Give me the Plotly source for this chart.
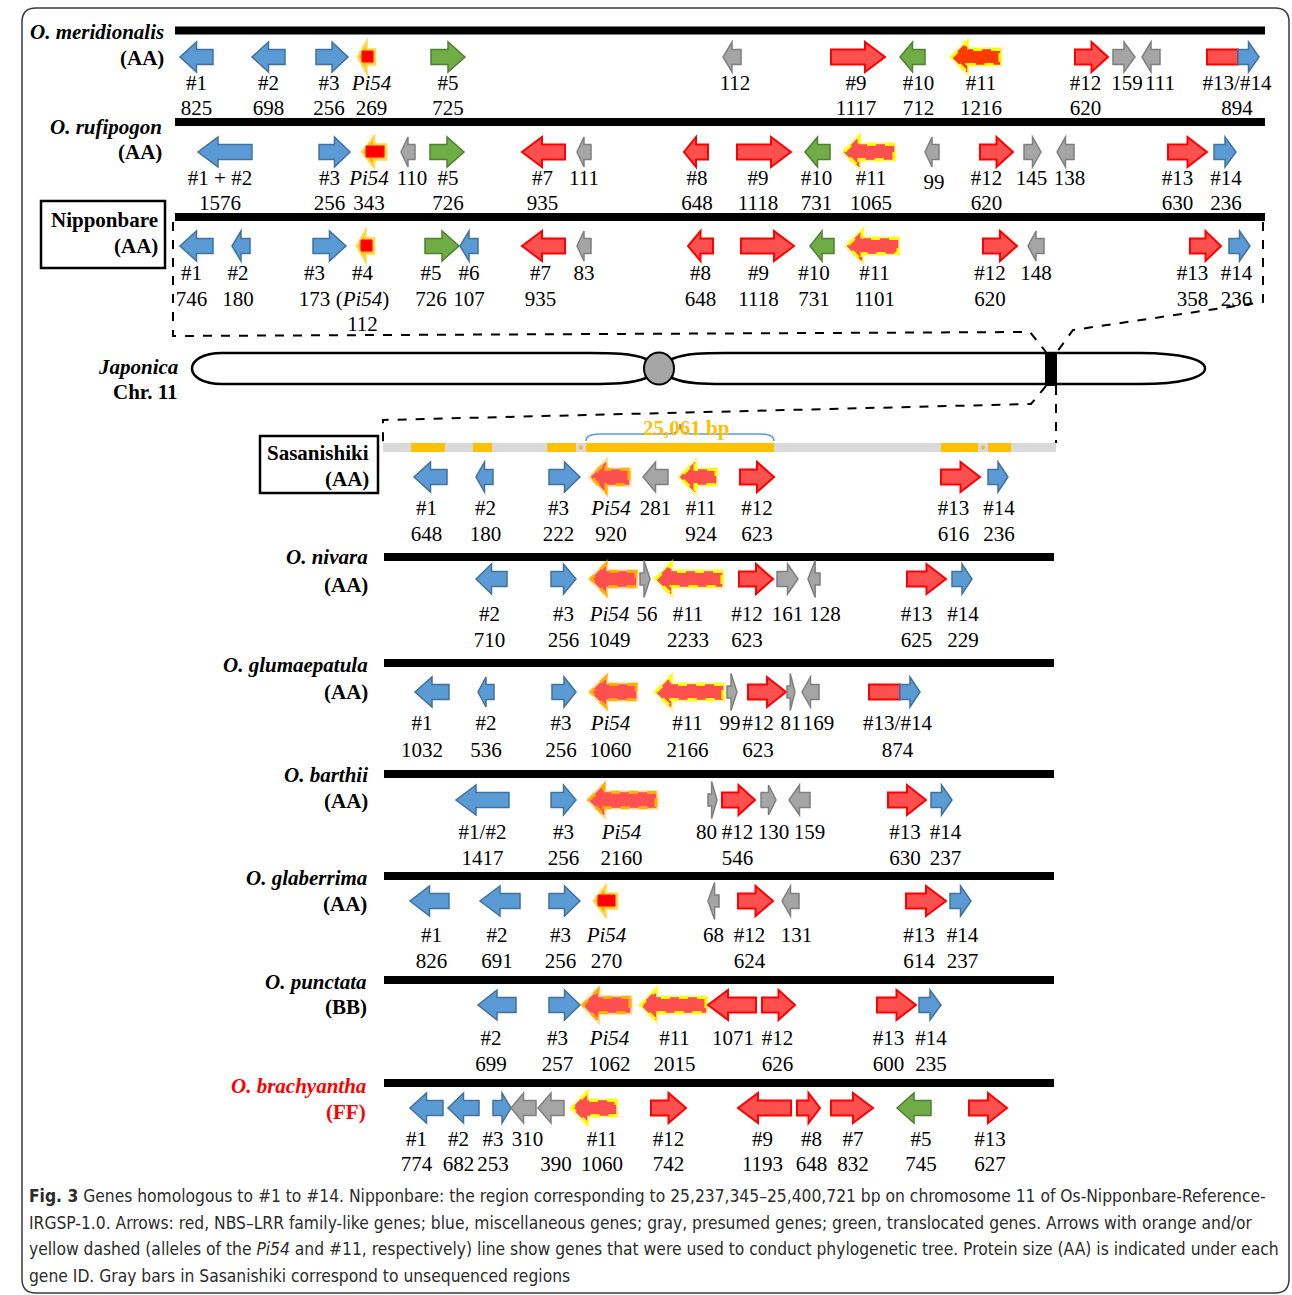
import plotly.graph_objects as go

W, H = 1292, 1295

# ---------------- gene tables: name, protein size (AA), extent along track, strand, class ----------------
MER_NAMES = ["#1", "#2", "#3", "<i>Pi54</i>", "#5", "", "#9", "#10", "#11", "#12", "", "", "#13/#14"]
MER_SIZES = [825, 698, 256, 269, 725, 112, 1117, 712, 1216, 620, 159, 111, 894]
MER_START = [180, 252, 316, 358, 431, 723, 831, 900, 952, 1075, 1113, 1142, 1207]
MER_END = [213, 285, 348, 375, 465, 741, 885, 925, 1000, 1108, 1135, 1160, 1259]
MER_STRAND = [-1, -1, 1, -1, 1, -1, 1, -1, -1, 1, 1, -1, 1]
MER_KIND = ["blue", "blue", "blue", "pi54s", "green", "gray", "red", "green", "r11o", "red", "gray", "gray", "fused"]

RUF_NAMES = ["#1 + #2", "#3", "<i>Pi54</i>", "", "#5", "#7", "", "#8", "#9", "#10", "#11", "", "#12", "", "", "#13", "#14"]
RUF_SIZES = [1576, 256, 343, 110, 726, 935, 111, 648, 1118, 731, 1065, 99, 620, 145, 138, 630, 236]
RUF_START = [198, 319, 362, 401, 430, 522, 577, 684, 737, 805, 844, 925, 980, 1024, 1057, 1168, 1214]
RUF_END = [252, 350, 386, 415, 464, 565, 591, 708, 791, 830, 894, 939, 1013, 1041, 1074, 1207, 1236]
RUF_STRAND = [-1, 1, -1, -1, 1, -1, -1, -1, 1, -1, -1, -1, 1, 1, -1, 1, 1]
RUF_KIND = ["blue", "blue", "pi54s", "gray", "green", "red", "gray", "red", "red", "green", "r11", "gray",
            "red", "gray", "gray", "red", "blue"]

NIP_NAMES = ["#1", "#2", "#3", "#4", "#5", "#6", "#7", "", "#8", "#9", "#10", "#11", "#12", "", "#13", "#14"]
NIP_SIZES = [746, 180, 173, 112, 726, 107, 935, 83, 648, 1118, 731, 1101, 620, 148, 358, 236]
NIP_START = [180, 232, 313, 357, 425, 460, 522, 577, 688, 741, 810, 847, 983, 1028, 1190, 1229]
NIP_END = [213, 250, 346, 374, 459, 478, 565, 591, 713, 794, 834, 898, 1017, 1044, 1221, 1250]
NIP_STRAND = [-1, -1, 1, -1, 1, -1, -1, -1, -1, 1, -1, -1, 1, -1, 1, 1]
NIP_KIND = ["blue", "blue", "blue", "pi54s", "green", "blue", "red", "gray", "red", "red", "green", "r11",
            "red", "gray", "red", "blue"]

SAS_NAMES = ["#1", "#2", "#3", "<i>Pi54</i>", "", "#11", "#12", "#13", "#14"]
SAS_SIZES = [648, 180, 222, 920, 281, 924, 623, 616, 236]
SAS_START = [414, 476, 549, 591, 643, 680, 740, 941, 988]
SAS_END = [447, 493, 580, 629, 668, 716, 774, 980, 1008]
SAS_STRAND = [-1, -1, 1, -1, -1, -1, 1, 1, 1]
SAS_KIND = ["blue", "blue", "blue", "pi54", "gray", "r11", "red", "red", "blue"]

NIV_NAMES = ["#2", "#3", "<i>Pi54</i>", "", "#11", "#12", "", "", "#13", "#14"]
NIV_SIZES = [710, 256, 1049, 56, 2233, 623, 161, 128, 625, 229]
NIV_START = [476, 551, 591, 640, 656, 739, 777, 808, 907, 952]
NIV_END = [507, 576, 636, 650, 722, 773, 798, 820, 946, 972]
NIV_STRAND = [-1, 1, -1, 1, -1, 1, 1, -1, 1, 1]
NIV_KIND = ["blue", "blue", "pi54", "gray", "r11", "red", "gray", "gray", "red", "blue"]

GLU_NAMES = ["#1", "#2", "#3", "<i>Pi54</i>", "#11", "", "#12", "", "", "#13/#14"]
GLU_SIZES = [1032, 536, 256, 1060, 2166, 99, 623, 81, 169, 874]
GLU_START = [415, 478, 552, 591, 656, 727, 748, 787, 802, 869]
GLU_END = [449, 494, 576, 636, 723, 737, 786, 795, 819, 920]
GLU_STRAND = [-1, -1, 1, -1, -1, 1, 1, 1, -1, 1]
GLU_KIND = ["blue", "blue", "blue", "pi54", "r11", "gray", "red", "gray", "gray", "fused"]

BAR_NAMES = ["#1/#2", "#3", "<i>Pi54</i>", "", "#12", "", "", "#13", "#14"]
BAR_SIZES = [1417, 256, 2160, 80, 546, 130, 159, 630, 237]
BAR_START = [456, 551, 589, 708, 722, 761, 789, 888, 931]
BAR_END = [509, 576, 656, 717, 755, 776, 810, 926, 952]
BAR_STRAND = [-1, 1, -1, 1, 1, 1, -1, 1, 1]
BAR_KIND = ["blue", "blue", "pi54", "gray", "red", "gray", "gray", "red", "blue"]

GLA_NAMES = ["#1", "#2", "#3", "<i>Pi54</i>", "", "#12", "", "#13", "#14"]
GLA_SIZES = [826, 691, 256, 270, 68, 624, 131, 614, 237]
GLA_START = [410, 480, 549, 594, 708, 738, 782, 906, 950]
GLA_END = [449, 520, 580, 617, 719, 773, 799, 946, 971]
GLA_STRAND = [-1, -1, 1, -1, -1, 1, -1, 1, 1]
GLA_KIND = ["blue", "blue", "blue", "pi54s", "gray", "red", "gray", "red", "blue"]

PUN_NAMES = ["#2", "#3", "<i>Pi54</i>", "#11", "", "#12", "#13", "#14"]
PUN_SIZES = [699, 257, 1062, 2015, 1071, 626, 600, 235]
PUN_START = [478, 549, 583, 641, 708, 762, 877, 919]
PUN_END = [516, 580, 630, 706, 756, 795, 916, 941]
PUN_STRAND = [-1, 1, -1, -1, -1, 1, 1, 1]
PUN_KIND = ["blue", "blue", "pi54", "r11", "red", "red", "red", "blue"]

BRA_NAMES = ["#1", "#2", "#3", "", "", "#11", "#12", "#9", "#8", "#7", "#5", "#13"]
BRA_SIZES = [774, 682, 253, 310, 390, 1060, 742, 1193, 648, 832, 745, 627]
BRA_START = [410, 448, 493, 511, 538, 572, 651, 738, 797, 831, 897, 969]
BRA_END = [443, 479, 511, 536, 564, 616, 686, 791, 820, 873, 931, 1007]
BRA_STRAND = [-1, -1, 1, -1, -1, -1, 1, -1, 1, 1, -1, 1]
BRA_KIND = ["blue", "blue", "blue", "gray", "gray", "r11", "red", "red", "red", "red", "green", "red"]

# junction between the NBS-LRR part and the #14 part of fused genes
FUSION_JUNCTION = {"meridionalis": 1238, "glumaepatula": 900}

# Sasanishiki: sequenced stretches of the contig and the bracketed span
SAS_SEQUENCED = [(411, 445), (473, 492), (547, 576), (586, 774), (941, 978), (988, 1011)]
SAS_JOINS = [581, 983]
SAS_SPAN = (586, 774)
SAS_SPAN_LABEL = "25,061 bp"

GENES = {
    "meridionalis": (MER_NAMES, MER_SIZES, MER_START, MER_END, MER_STRAND, MER_KIND),
    "rufipogon": (RUF_NAMES, RUF_SIZES, RUF_START, RUF_END, RUF_STRAND, RUF_KIND),
    "nipponbare": (NIP_NAMES, NIP_SIZES, NIP_START, NIP_END, NIP_STRAND, NIP_KIND),
    "sasanishiki": (SAS_NAMES, SAS_SIZES, SAS_START, SAS_END, SAS_STRAND, SAS_KIND),
    "nivara": (NIV_NAMES, NIV_SIZES, NIV_START, NIV_END, NIV_STRAND, NIV_KIND),
    "glumaepatula": (GLU_NAMES, GLU_SIZES, GLU_START, GLU_END, GLU_STRAND, GLU_KIND),
    "barthii": (BAR_NAMES, BAR_SIZES, BAR_START, BAR_END, BAR_STRAND, BAR_KIND),
    "glaberrima": (GLA_NAMES, GLA_SIZES, GLA_START, GLA_END, GLA_STRAND, GLA_KIND),
    "punctata": (PUN_NAMES, PUN_SIZES, PUN_START, PUN_END, PUN_STRAND, PUN_KIND),
    "brachyantha": (BRA_NAMES, BRA_SIZES, BRA_START, BRA_END, BRA_STRAND, BRA_KIND),
}

# ---------------- layout of each track ----------------
TOP_X = (175, 1265)
LOW_X = (384, 1054)
TRACKS = {
    "meridionalis": dict(line=30.5, arrow=57, rows=(83, 108, 133), span=TOP_X, label="<b><i>O. meridionalis</i></b>",
                         sub="<b>(AA)</b>", ly=(32, 58), lx=166, color="black"),
    "rufipogon": dict(line=122, arrow=152, rows=(178, 203, 228), span=TOP_X, label="<b><i>O. rufipogon</i></b>",
                      sub="<b>(AA)</b>", ly=(127, 152), lx=164, color="black"),
    "nipponbare": dict(line=217, arrow=246, rows=(273, 299, 324), span=TOP_X, label="<b>Nipponbare</b>",
                       sub="<b>(AA)</b>", ly=(220, 246), lx=160, color="black"),
    "sasanishiki": dict(line=None, arrow=477, rows=(508, 534, 559), span=LOW_X, label="<b>Sasanishiki</b>",
                        sub="<b>(AA)</b>", ly=(453, 479), lx=371, color="black"),
    "nivara": dict(line=557, arrow=579, rows=(614, 640, 665), span=LOW_X, label="<b><i>O. nivara</i></b>",
                   sub="<b>(AA)</b>", ly=(557, 585), lx=370, color="black"),
    "glumaepatula": dict(line=663, arrow=692, rows=(723, 750, 775), span=LOW_X,
                         label="<b><i>O. glumaepatula</i></b>", sub="<b>(AA)</b>", ly=(665, 692), lx=370,
                         color="black"),
    "barthii": dict(line=774, arrow=800, rows=(832, 858, 883), span=LOW_X, label="<b><i>O. barthii</i></b>",
                    sub="<b>(AA)</b>", ly=(775, 801), lx=370, color="black"),
    "glaberrima": dict(line=876, arrow=901, rows=(935, 961, 986), span=LOW_X, label="<b><i>O. glaberrima</i></b>",
                       sub="<b>(AA)</b>", ly=(878, 904), lx=369, color="black"),
    "punctata": dict(line=980, arrow=1005, rows=(1038, 1064, 1089), span=LOW_X, label="<b><i>O. punctata</i></b>",
                     sub="<b>(BB)</b>", ly=(982, 1007), lx=369, color="black"),
    "brachyantha": dict(line=1083, arrow=1108, rows=(1139, 1164, 1189), span=LOW_X,
                        label="<b><i>O. brachyantha</i></b>", sub="<b>(FF)</b>", ly=(1086, 1112), lx=368,
                        color="#FF0000"),
}
ROW_SHIFT = 2  # text-centre correction for caption rows

# horizontal nudges of the gene captions relative to the arrow centre
LABEL_DX = {
    "meridionalis": [0, 0, -3, 5, 0, 3, -2, 6, 5, -6, 3, 9, 4],
    "rufipogon": [-5, -5, -5, 4, 1, -1, 0, 1, -6, -1, 2, 2, -10, -1, 4, -10, 1],
    "nipponbare": [-5, -3, -15, -3, -11, 0, -3, 0, 0, -9, -8, 2, -10, 0, -13, -3],
    "sasanishiki": [-4, 1, -6, 1, 0, 3, 0, -7, 1],
    "nivara": [-2, 0, -4, 2, -1, -9, 0, 11, -10, 1],
    "glumaepatula": [-10, 0, -3, -3, -2, -2, -9, 0, 8, 3],
    "barthii": [0, 0, -1, -6, -1, 5, 10, -2, 4],
    "glaberrima": [2, -3, -4, 1, 0, -6, 6, -7, 2],
    "punctata": [-6, -7, 3, 1, 1, -1, -8, 1],
    "brachyantha": [-10, -5, -9, 4, 5, 8, 0, -2, 3, 1, 7, 2],
}
SIZE_ROW = {("nipponbare", 3): 2, ("brachyantha", 4): 1}   # 0-based caption row for the size
ROW_DY = {("rufipogon", 11): 4}
EXTRA_CAPTIONS = [("nipponbare", 3, 1, "(<i>Pi54</i>)")]

STYLE = {
    "blue": ("#5B9BD5", "#41719C", 1.5, "solid"),
    "red": ("#FF5050", "#FF0000", 2.0, "solid"),
    "gray": ("#A5A5A5", "#7F7F7F", 1.5, "solid"),
    "green": ("#70AD47", "#507E32", 1.5, "solid"),
    "pi54": ("#FF5050", "#FFB000", 3.0, "dash"),
    "r11": ("#FF5050", "#FFFF00", 3.0, "dash"),
    "r11o": ("#FF3C00", "#FFFF00", 3.0, "dash"),
}
SERIF = "Liberation Serif"
FS = 21

shapes = []
annotations = []
traces = []


def path_of(pts):
    return "M " + " L ".join(f"{x:.2f},{y:.2f}" for x, y in pts) + " Z"


def add_path(d, fill, line, width, dash="solid"):
    shapes.append(dict(type="path", path=d, xref="x", yref="y", fillcolor=fill,
                       line=dict(color=line, width=width, dash=dash)))


def arrow_pts(x0, x1, yc, strand, kind):
    length = x1 - x0
    if length < 13:
        hh, bh, hl = 18.5, 6.0, length * 0.6
    else:
        hh, bh = 15.0, 7.5
        cap = 15 if kind in ("pi54", "r11", "r11o") else 20
        hl = min(cap, 0.5 * length)
    if strand > 0:
        b = x1 - hl
        return [(x0, yc - bh), (b, yc - bh), (b, yc - hh), (x1, yc), (b, yc + hh), (b, yc + bh), (x0, yc + bh)]
    b = x0 + hl
    return [(x1, yc - bh), (b, yc - bh), (b, yc - hh), (x0, yc), (b, yc + hh), (b, yc + bh), (x1, yc + bh)]


def draw_gene(genome, x0, x1, yc, strand, kind):
    if kind == "fused":
        j = FUSION_JUNCTION[genome]
        add_path(path_of([(x0, yc - 7.5), (j, yc - 7.5), (j, yc + 7.5), (x0, yc + 7.5)]),
                 "#FF5050", "#FF0000", 2.0)
        f, l, w, _ = STYLE["blue"]
        add_path(path_of(arrow_pts(j, x1, yc, strand, "blue")), f, l, w)
        return
    if kind == "pi54s":
        add_path(path_of(arrow_pts(x0, x1, yc, strand, kind)), "#FFA800", "#FFD84A", 2.5)
        inner = [(x0 + 4, yc - 6), (x1 - 2, yc - 6), (x1 - 2, yc + 5), (x0 + 4, yc + 5)]
        add_path(path_of(inner), "#FF0000", "#FF1000", 1.0)
        return
    pts = arrow_pts(x0, x1, yc, strand, kind)
    f, l, w, dash = STYLE[kind]
    if kind in ("pi54", "r11", "r11o"):
        glow = "rgba(255,176,0,0.45)" if kind == "pi54" else "rgba(255,235,0,0.45)"
        add_path(path_of(pts), f, glow, 4.5)
        add_path(path_of(pts), f, "#FF8080" if kind == "pi54" else "#FF9060", 1.0)
    add_path(path_of(pts), f, l, w, dash)


# ---------------- frame ----------------
R = 14
fx0, fy0, fx1, fy1 = 22, 8, 1289, 1293
shapes.append(dict(type="path", xref="x", yref="y", line=dict(color="#3a3a3a", width=1.5),
                   path=(f"M {fx0 + R},{fy0} L {fx1 - R},{fy0} Q {fx1},{fy0} {fx1},{fy0 + R} "
                         f"L {fx1},{fy1 - R} Q {fx1},{fy1} {fx1 - R},{fy1} L {fx0 + R},{fy1} "
                         f"Q {fx0},{fy1} {fx0},{fy1 - R} L {fx0},{fy0 + R} Q {fx0},{fy0} {fx0 + R},{fy0} Z")))

# ---------------- connectors and chromosome ----------------
DASH = dict(color="black", width=2, dash="dash")
BAND = (1045, 1057, 352, 386)


def dline(pts):
    shapes.append(dict(type="path", xref="x", yref="y", line=DASH,
                       path="M " + " L ".join(f"{x},{y}" for x, y in pts)))


dline([(TOP_X[0] - 2, 222), (TOP_X[0] - 2, 336), (1030, 332), (BAND[0] + 1, BAND[2])])
dline([(TOP_X[1] - 2, 222), (TOP_X[1] - 2, 302), (1073, 330), (BAND[1], BAND[2])])
dline([(BAND[0] + 1, BAND[3]), (1031, 404), (LOW_X[0] - 1, 420), (LOW_X[0] - 1, 443)])
dline([(BAND[1] - 1, BAND[3]), (BAND[1] - 1, 443)])

CEN = (659, 368.5)
add_path("M 646,359 C 632,353 610,353 590,353 L 222,353 C 202,353 192,361 192,368.5 "
         "C 192,376 202,384 222,384 L 590,384 C 610,384 632,384 646,378 Z", "white", "black", 2.5)
add_path("M 672,359 C 686,353 705,353 725,353 L 1140,353 C 1182,353 1205,360 1205,368.5 "
         "C 1205,377 1182,384 1140,384 L 725,384 C 705,384 686,384 672,378 Z", "white", "black", 2.5)
shapes.append(dict(type="circle", xref="x", yref="y", x0=CEN[0] - 15, x1=CEN[0] + 15, y0=CEN[1] - 16,
                   y1=CEN[1] + 16, fillcolor="#A6A6A6", line=dict(color="black", width=2)))
shapes.append(dict(type="rect", xref="x", yref="y", x0=BAND[0], x1=BAND[1], y0=BAND[2], y1=BAND[3],
                   fillcolor="black", line=dict(width=0)))
annotations.append(dict(x=180, y=367, text="<b><i>Japonica</i></b>", xanchor="right", yanchor="middle",
                        showarrow=False, font=dict(family=SERIF, size=FS, color="black")))
annotations.append(dict(x=180, y=392, text="<b>Chr. 11</b>", xanchor="right", yanchor="middle",
                        showarrow=False, font=dict(family=SERIF, size=FS, color="black")))

# ---------------- name boxes ----------------
shapes.append(dict(type="rect", xref="x", yref="y", x0=41, x1=165, y0=201, y1=268,
                   line=dict(color="black", width=2.5)))
shapes.append(dict(type="rect", xref="x", yref="y", x0=260, x1=378, y0=436, y1=493,
                   line=dict(color="black", width=2.5)))

# ---------------- Sasanishiki contig bar ----------------
shapes.append(dict(type="rect", xref="x", yref="y", x0=LOW_X[0] - 1, x1=BAND[1] - 1, y0=443, y1=452,
                   fillcolor="#D9D9D9", line=dict(width=0)))
for a, b in SAS_SEQUENCED:
    shapes.append(dict(type="rect", xref="x", yref="y", x0=a, x1=b, y0=443, y1=452,
                       fillcolor="#FFC000", line=dict(width=0)))
for j in SAS_JOINS:
    shapes.append(dict(type="circle", xref="x", yref="y", x0=j - 1.5, x1=j + 1.5, y0=446, y1=449,
                       fillcolor="#FFC000", line=dict(color="#E0A000", width=0.5)))
s0, s1 = SAS_SPAN
sm = (s0 + s1) / 2
shapes.append(dict(type="path", xref="x", yref="y", line=dict(color="#5B9BD5", width=1.5),
                   path=(f"M {s0},{441} Q {s0},{434} {s0 + 14},{434} L {sm - 12},{434} "
                         f"Q {sm},{434} {sm},{424} Q {sm},{434} {sm + 12},{434} L {s1 - 14},{434} "
                         f"Q {s1},{434} {s1},{441}")))
annotations.append(dict(x=sm + 6, y=428, text=f"<b>{SAS_SPAN_LABEL}</b>", showarrow=False,
                        xanchor="center", yanchor="middle",
                        font=dict(family=SERIF, size=FS, color="#FFC000")))

# ---------------- tracks ----------------
for g, t in TRACKS.items():
    if t["line"] is not None:
        shapes.append(dict(type="rect", xref="x", yref="y", x0=t["span"][0], x1=t["span"][1],
                           y0=t["line"] - 4, y1=t["line"] + 4, fillcolor="black", line=dict(width=0)))
    for txt, yy in ((t["label"], t["ly"][0]), (t["sub"], t["ly"][1])):
        annotations.append(dict(x=t["lx"], y=yy, text=txt, xanchor="right", yanchor="middle", showarrow=False,
                                font=dict(family=SERIF, size=FS, color=t["color"])))

    names, sizes, starts, ends, strands, kinds = GENES[g]
    rows = [r + ROW_SHIFT for r in t["rows"]]
    xs, ys, texts = [], [], []
    for i, (nm, sz, a, b, s, k) in enumerate(zip(names, sizes, starts, ends, strands, kinds)):
        draw_gene(g, a, b, t["arrow"], s, k)
        cx = (a + b) / 2 + LABEL_DX[g][i]
        dy = ROW_DY.get((g, i), 0)
        if nm:
            xs.append(cx); ys.append(rows[0] + dy); texts.append(nm)
            row = SIZE_ROW.get((g, i), 1)
        else:
            row = SIZE_ROW.get((g, i), 0)
        xs.append(cx); ys.append(rows[row] + dy); texts.append(str(sz))
    for eg, ei, er, etxt in EXTRA_CAPTIONS:
        if eg == g:
            cx = (starts[ei] + ends[ei]) / 2 + LABEL_DX[g][ei]
            xs.append(cx); ys.append(rows[er]); texts.append(etxt)
    traces.append(go.Scatter(x=xs, y=ys, text=texts, mode="text", textposition="middle center",
                             textfont=dict(family=SERIF, size=FS, color="black"),
                             hoverinfo="skip", showlegend=False, cliponaxis=False))

# ---------------- caption ----------------
CAPTION = [
    "<b>Fig. 3</b> Genes homologous to #1 to #14. Nipponbare: the region corresponding to 25,237,345–25,400,721 bp "
    "on chromosome 11 of Os-Nipponbare-Reference-",
    "IRGSP-1.0. Arrows: red, NBS–LRR family-like genes; blue, miscellaneous genes; gray, presumed genes; green, "
    "translocated genes. Arrows with orange and/or",
    "yellow dashed (alleles of the <i>Pi54</i> and #11, respectively) line show genes that were used to conduct "
    "phylogenetic tree. Protein size (AA) is indicated under each",
    "gene ID. Gray bars in Sasanishiki correspond to unsequenced regions",
]
for k, line in enumerate(CAPTION):
    annotations.append(dict(x=27, y=1196 + k * 26.7, text=line, xanchor="left", yanchor="middle",
                            showarrow=False,
                            font=dict(family="DejaVu Sans Condensed, Liberation Sans Narrow, sans-serif",
                                      size=17.3, color="#2B2B2B")))

fig = go.Figure(traces)
fig.update_layout(
    width=W, height=H, margin=dict(l=0, r=0, t=0, b=0),
    paper_bgcolor="white", plot_bgcolor="white",
    xaxis=dict(range=[0, W], visible=False, fixedrange=True),
    yaxis=dict(range=[H, 0], visible=False, fixedrange=True),
    shapes=shapes, annotations=annotations, hovermode=False, showlegend=False,
)
fig.write_html("out.html")
